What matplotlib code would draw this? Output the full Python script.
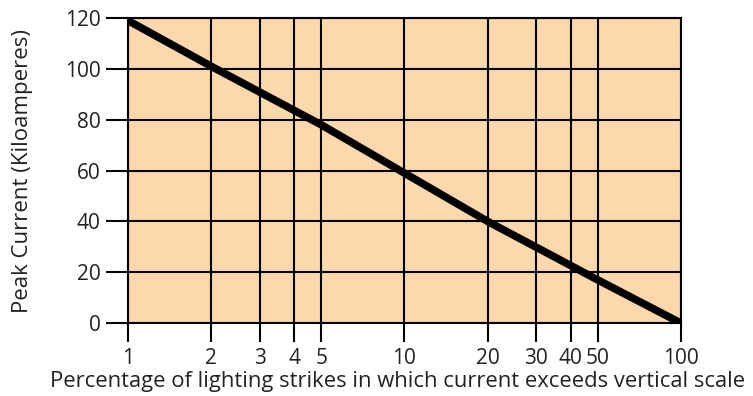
import matplotlib.pyplot as plt

# values
pct = [1, 2, 5, 10, 20, 50, 100]
peak_ka = [119, 101, 78, 59, 40, 17, 0]

x_ticks = [1, 2, 3, 4, 5, 10, 20, 30, 40, 50, 100]
y_ticks = [0, 20, 40, 60, 80, 100, 120]

plt.rcParams['font.family'] = ['Open Sans', 'DejaVu Sans']

fig = plt.figure(figsize=(7.53, 3.96), dpi=100)
ax = fig.add_axes([0.170, 0.1843, 0.734, 0.7702])
ax.set_facecolor('#fdd8ad')

ax.plot(pct, peak_ka, color='black', linewidth=5.5, solid_capstyle='butt', zorder=3)

ax.set_xscale('log')
ax.set_xlim(1, 100)
ax.set_ylim(0, 120)
ax.set_xticks(x_ticks)
ax.set_xticklabels([str(t) for t in x_ticks])
ax.xaxis.set_minor_locator(plt.NullLocator())
ax.set_yticks(y_ticks)

ax.grid(True, color='black', linewidth=1.5, zorder=1)
for spine in ax.spines.values():
    spine.set_linewidth(1.5)
ax.tick_params(axis='x', length=13.7, width=1.5, labelsize=15, pad=4.5, colors='black', labelcolor='#222222')
ax.tick_params(axis='y', length=15.8, width=1.5, labelsize=15, pad=4, colors='black', labelcolor='#222222')

ax.set_xlabel('Percentage of lighting strikes in which current exceeds vertical scale',
              fontsize=15.8, color='#222222', labelpad=1)
ax.xaxis.label.set_x(0.487)
ax.set_ylabel('Peak Current (Kiloamperes)', fontsize=16, color='#222222', labelpad=23)

plt.savefig('out.png', dpi=100)
